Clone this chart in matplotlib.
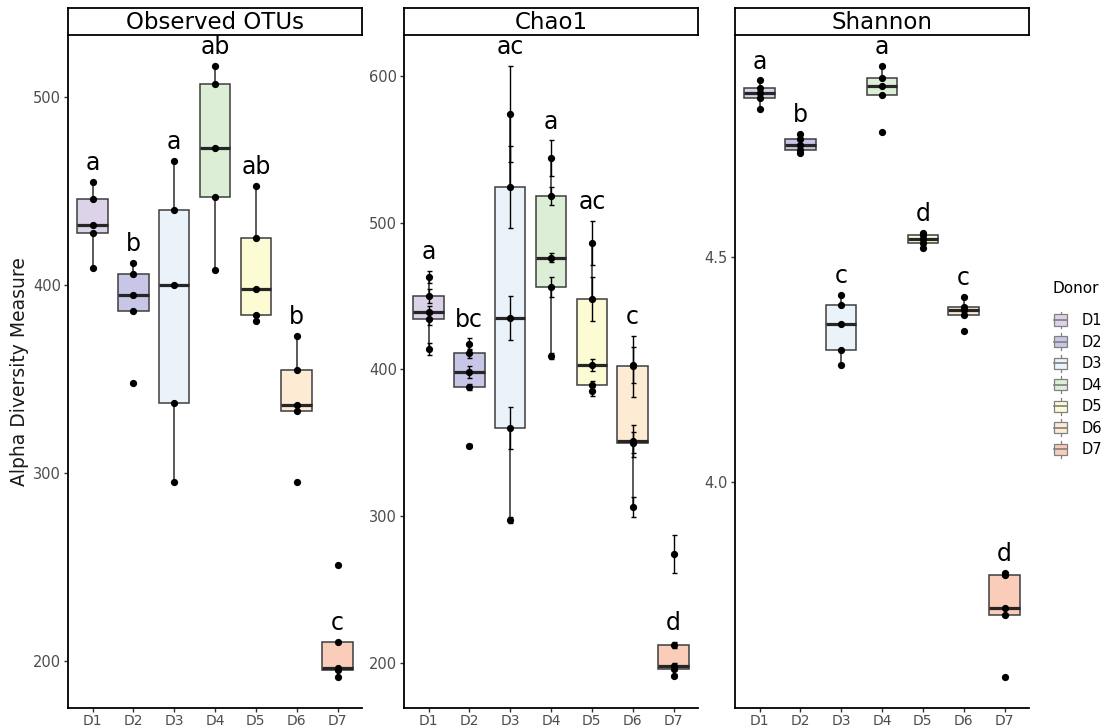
import numpy as np
import matplotlib.pyplot as plt
from matplotlib.patches import Patch, Rectangle
from matplotlib.lines import Line2D
from matplotlib.legend_handler import HandlerBase

plt.rcParams['font.family'] = ['DejaVu Sans']

donors = ['D1', 'D2', 'D3', 'D4', 'D5', 'D6', 'D7']
donor_colors = ['#DCD3E8', '#C8C6E6', '#EAF3FA', '#DDEED7', '#FDFBD4', '#FDEBD3', '#F9CDBA']

# five samples per donor
observed = [
    [455, 446, 432, 428, 409],
    [412, 406, 395, 386, 348],
    [466, 440, 400, 337, 295],
    [517, 507, 473, 447, 408],
    [453, 425, 398, 384, 381],
    [373, 355, 336, 333, 295],
    [251, 210, 196, 195, 191],
]

chao1 = [
    [463, 450, 439, 434, 414],
    [417, 411, 398, 388, 348],
    [574, 524, 435, 360, 297],
    [544, 518, 476, 456, 409],
    [486, 448, 403, 389, 385],
    [403, 402, 351, 350, 306],
    [274, 212, 198, 196, 191],
]

# standard error of the chao1 estimate
chao1_se = [
    [4, 5, 4, 4, 4],
    [4, 3, 4, 2, 1],
    [33, 28, 15, 14, 2],
    [12, 6, 3, 7, 2],
    [15, 15, 4, 3, 3],
    [12, 21, 11, 7, 7],
    [13, 2, 2, 1, 1],
]

shannon = [
    [4.890, 4.874, 4.863, 4.852, 4.826],
    [4.771, 4.760, 4.747, 4.736, 4.729],
    [4.416, 4.392, 4.350, 4.293, 4.260],
    [4.923, 4.896, 4.877, 4.857, 4.776],
    [4.553, 4.548, 4.540, 4.531, 4.520],
    [4.410, 4.388, 4.381, 4.370, 4.335],
    [3.800, 3.795, 3.722, 3.707, 3.568],
]

observed_letters = ['a', 'b', 'a', 'ab', 'ab', 'b', 'c']
chao1_letters = ['a', 'bc', 'ac', 'a', 'ac', 'c', 'd']
shannon_letters = ['a', 'b', 'c', 'a', 'd', 'c', 'd']

observed_ticks = [200, 300, 400, 500]
chao1_ticks = [200, 300, 400, 500, 600]
shannon_ticks = [4.0, 4.5]

EDGE = '#3d3d3d'


def letter_anchor(vals, errs):
    # top of the upper whisker (outliers ignored), including error bars
    q1, q3 = np.percentile(vals, [25, 75])
    lo, hi = q1 - 1.5 * (q3 - q1), q3 + 1.5 * (q3 - q1)
    return max(v + e for v, e in zip(vals, errs) if lo <= v <= hi)


def draw_panel(ax, data, letters, ticks, errs=None):
    pos = np.arange(1, len(donors) + 1)
    if errs is None:
        errs = [[0] * len(v) for v in data]

    bp = ax.boxplot(data, positions=pos, widths=0.75, patch_artist=True,
                    showfliers=False, showcaps=False,
                    medianprops=dict(color='#262626', linewidth=2.3),
                    boxprops=dict(edgecolor=EDGE, linewidth=1.1),
                    whiskerprops=dict(color=EDGE, linewidth=1.2))
    for patch, c in zip(bp['boxes'], donor_colors):
        patch.set_facecolor(c)

    for i, vals in enumerate(data):
        x = np.full(len(vals), pos[i])
        if any(errs[i]):
            ax.errorbar(x, vals, yerr=errs[i], fmt='none', ecolor='black',
                        elinewidth=1.0, capsize=1.8, capthick=1.0, zorder=3)
        ax.plot(x, vals, 'o', color='black', markersize=4.2, zorder=4)
        ax.annotate(letters[i], (pos[i], letter_anchor(vals, errs[i])),
                    xytext=(0, 8.5), textcoords='offset points',
                    ha='center', va='baseline', fontsize=17, color='black')

    # ggplot style 5% expansion
    lo = min(v - e for vs, es in zip(data, errs) for v, e in zip(vs, es))
    hi = max(v + e for vs, es in zip(data, errs) for v, e in zip(vs, es))
    pad = 0.05 * (hi - lo)
    ax.set_ylim(lo - pad, hi + pad)
    ax.set_xlim(0.4, len(donors) + 0.6)
    ax.set_xticks(pos)
    ax.set_xticklabels(donors)
    ax.set_yticks(ticks)
    if isinstance(ticks[0], float):
        ax.set_yticklabels(['%.1f' % t for t in ticks])

    for side in ['top', 'right']:
        ax.spines[side].set_visible(False)
    for side in ['left', 'bottom']:
        ax.spines[side].set_linewidth(1.3)
        ax.spines[side].set_color('black')
    ax.tick_params(length=3, width=1, color='#333333', labelcolor='#4D4D4D',
                   labelsize=10.5, pad=2)
    ax.tick_params(axis='x', labelsize=10, pad=1.5)


def add_strip(fig, ax, title):
    b = ax.get_position()
    strip = fig.add_axes([b.x0, b.y1, b.width, 27 / 728])
    strip.set_xticks([])
    strip.set_yticks([])
    for s in strip.spines.values():
        s.set_linewidth(1.3)
    strip.text(0.5, 0.47, title, ha='center', va='center', fontsize=16.5,
               transform=strip.transAxes)


class BoxKey(HandlerBase):
    def create_artists(self, legend, orig_handle, xdescent, ydescent,
                       width, height, fontsize, trans):
        x0, y0 = -xdescent, -ydescent
        cx = x0 + width / 2
        stem = Line2D([cx, cx], [y0 - 0.1 * height, y0 + 1.1 * height],
                      color='#808080', lw=0.9, transform=trans)
        box = Rectangle((x0, y0 + 0.1 * height), width, 0.8 * height,
                        facecolor=orig_handle.get_facecolor(), edgecolor='#808080',
                        lw=0.9, transform=trans)
        mid = Line2D([x0, x0 + width], [y0 + height / 2] * 2, color='#808080',
                     lw=1.2, transform=trans)
        return [stem, box, mid]


fig = plt.figure(figsize=(11.1, 7.28), dpi=100)

bottom = 20 / 728
height = 673 / 728
panels = [
    ('Observed OTUs', observed, None, observed_letters, observed_ticks, 68),
    ('Chao1', chao1, chao1_se, chao1_letters, chao1_ticks, 404),
    ('Shannon', shannon, None, shannon_letters, shannon_ticks, 735),
]

for title, data, errs, letters, ticks, left_px in panels:
    ax = fig.add_axes([left_px / 1110, bottom, 294 / 1110, height])
    draw_panel(ax, data, letters, ticks, errs)
    add_strip(fig, ax, title)
    if title == 'Observed OTUs':
        ax.set_ylabel('Alpha Diversity Measure', fontsize=13.5, color='#1a1a1a',
                      labelpad=3)

# legend title placed on its own so it sits a little above the keys
fig.text(1053 / 1110, 1 - 289 / 728, 'Donor', ha='left', va='center',
         fontsize=11)
handles = [Patch(facecolor=c) for c in donor_colors]
fig.legend(handles, donors, loc='upper left',
           bbox_to_anchor=(1054 / 1110, 1 - 313 / 728), frameon=False,
           handler_map={Patch: BoxKey()},
           handlelength=0.9, handleheight=1.1, handletextpad=1.0,
           labelspacing=0.45, fontsize=10.5,
           borderaxespad=0, borderpad=0)

fig.savefig('out.png', dpi=100)
